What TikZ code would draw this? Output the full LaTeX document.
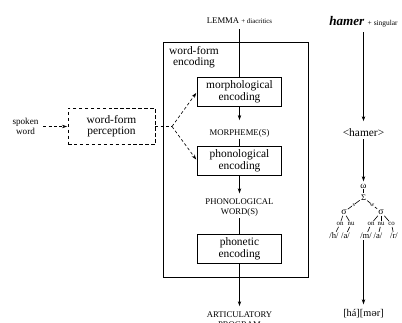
\documentclass[tikz,border=0pt]{standalone}
\usepackage{fontspec}
\setmainfont{Liberation Serif}
\newfontfamily\ipafont[Scale=0.92]{DejaVu Serif}
\usetikzlibrary{arrows.meta}
\tikzset{
  enc/.style={draw, minimum width=74pt, minimum height=25.5pt, align=center, inner sep=1pt, font=\fontsize{10}{10.5}\selectfont},
  level/.style={align=center, inner sep=1.5pt, font=\fontsize{7.6}{8.6}\selectfont},
  arr/.style={-{Stealth[length=4.5pt,width=3pt]}, shorten >=3pt},
  dashline/.style={dash pattern=on 2.6pt off 2pt},
  tree/.style={inner sep=0.8pt, font=\fontsize{6}{7}\selectfont},
  seg/.style={inner sep=0.8pt, font=\fontsize{7.5}{8}\selectfont},
}
\begin{document}
\begin{tikzpicture}[x=0.875pt,y=-0.875pt,line width=0.55pt]
\useasboundingbox (0,0) rectangle (402,323);
% word-form encoding
\draw (163,42) rectangle (308,277);
\node[align=center, font=\fontsize{10}{9.8}\selectfont] (wfe) at (194,57.5) {word-form\\encoding};
\node[level] (lemma) at (239.5,21) {LEMMA {\fontsize{6}{7}\selectfont + diacritics}};
\node[enc] (morph) at (239.5,92) {morphological\\encoding};
\node[level] (morpheme) at (239.5,133) {MORPHEME(S)};
\node[enc] (phon) at (239.5,160.5) {phonological\\encoding};
\node[level] (pword) at (239.5,207.5) {PHONOLOGICAL\\WORD(S)};
\node[enc] (phonetic) at (239.5,248.5) {phonetic\\encoding};
\node[level] (artic) at (239.5,319.5) {ARTICULATORY\\PROGRAM};
\draw[shorten <=3pt] (lemma) -- (morph);
\draw[arr, shorten >=6pt] (morph) -- (morpheme);
\draw (morpheme) -- (phon);
\draw[arr] (phon) -- (pword);
\draw (pword) -- (phonetic);
\draw[arr] (phonetic) -- (artic);
% word-form perception
\node[align=center, inner sep=1pt, font=\fontsize{8}{8.8}\selectfont] (spoken) at (25.5,126.5) {spoken\\word};
\node[enc, dash pattern=on 3pt off 2.2pt, minimum width=76pt, minimum height=32pt, font=\fontsize{10}{9.6}\selectfont] (perc) at (111.5,126.5) {word-form\\perception};
\coordinate (split) at (172,126.5);
\draw[arr, dashline, shorten <=3pt, shorten >=0.5pt] (spoken) -- (perc);
\draw[dashline] (perc) -- (split);
\draw[arr, dashline, shorten >=1pt] (split) -- (morph.west);
\draw[arr, dashline, shorten >=1pt] (split) -- (phon.west);
% example: hamer
\node[inner sep=1pt, font=\fontsize{11.5}{12}\selectfont] (word) at (363.5,22) {\textbf{\textit{hamer}} {\fontsize{6.5}{7}\selectfont + singular}};
\node[inner sep=1.5pt, font=\fontsize{10}{11}\selectfont] (form) at (363.5,133) {<hamer>};
\node[tree, font=\fontsize{8}{9}\selectfont] (omega) at (363.5,186) {ω};
\node[tree, font=\fontsize{7.5}{8}\selectfont] (foot) at (363.5,197.5) {Σ};
\node[tree, font=\fontsize{8.5}{9}\selectfont] (sylL) at (344,212) {σ};
\node[tree, font=\fontsize{8.5}{9}\selectfont] (sylR) at (381,212) {σ};
\draw[arr, shorten <=3pt, shorten >=5pt] (word) -- (form);
\draw[arr, shorten >=1pt] (form) -- (omega);
\draw (omega) -- (foot);
\draw (foot) -- node[fill=white, inner sep=0.3pt, font=\fontsize{5.5}{6}\selectfont] {s} (sylL);
\draw (foot) -- node[fill=white, inner sep=0.3pt, font=\fontsize{5.5}{6}\selectfont] {w} (sylR);
\node[tree] (onL) at (340,224) {on};
\node[tree] (nuL) at (351,224) {nu};
\node[tree] (onR) at (371,224) {on};
\node[tree] (nuR) at (381,224) {nu};
\node[tree] (coR) at (391.5,224) {co};
\foreach \c in {onL,nuL} \draw (sylL) -- (\c);
\foreach \c in {onR,nuR,coR} \draw (sylR) -- (\c);
\node[seg] (h) at (334,236) {/h/};
\node[seg] (a1) at (345.5,236) {/a/};
\node[seg] (m) at (366,236) {/m/};
\node[seg] (a2) at (378,236) {/a/};
\node[seg] (r) at (394,236) {/r/};
\draw (onL) -- (h);
\draw (nuL) -- (a1);
\draw (onR) -- (m);
\draw (nuR) -- (a2);
\draw (coR) -- (r);
\node[inner sep=1.5pt, font=\fontsize{9}{10}\selectfont] (out) at (363.5,314) {[há][m{\ipafont ə}r]};
\draw[arr] (out |- m.south) -- (out);
\end{tikzpicture}
\end{document}
